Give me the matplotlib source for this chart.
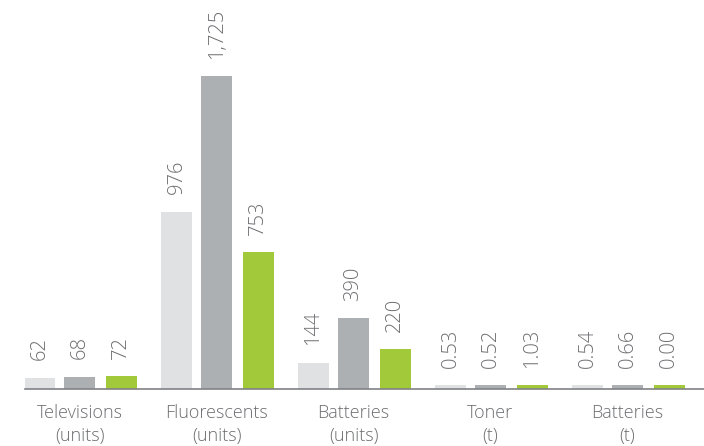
import numpy as np
import matplotlib
matplotlib.use("Agg")
import matplotlib.pyplot as plt

categories = ["Televisions\n(units)", "Fluorescents\n(units)", "Batteries\n(units)", "Toner\n(t)", "Batteries\n(t)"]
series_a = [62, 976, 144, 0.53, 0.54]
series_b = [68, 1725, 390, 0.52, 0.66]
series_c = [72, 753, 220, 1.03, 0.00]
labels_a = ["62", "976", "144", "0.53", "0.54"]
labels_b = ["68", "1,725", "390", "0.52", "0.66"]
labels_c = ["72", "753", "220", "1.03", "0.00"]

colors = ["#e0e1e2", "#adb0b3", "#a2c93a"]
text_color = "#6d6e71"
font = "Open Sans"

W, H = 704, 446
fig = plt.figure(figsize=(W / 100, H / 100), dpi=100)
ax = fig.add_axes([25 / W, 57 / H, 679 / W, 389 / H])

x = np.arange(len(categories))
width = 0.226
offsets = [-0.293, 0.0, 0.305]
ymax = 2143
stub = 4 / 389 * ymax  # smallest visible bar height

for i, (vals, labs) in enumerate(zip([series_a, series_b, series_c], [labels_a, labels_b, labels_c])):
    vals = np.array(vals, dtype=float)
    heights = np.maximum(vals, stub)
    xs = x + offsets[i]
    ax.bar(xs, heights, width=width, color=colors[i], linewidth=0)
    for xi, h, lab in zip(xs, heights, labs):
        ax.annotate(lab, (xi, h), xytext=(0, 12.5), textcoords="offset points",
                    rotation=90, ha="center", va="bottom", fontsize=14.5,
                    color=text_color, family=font, fontweight="light")

ax.set_xlim(-0.398, 4.558)
ax.set_ylim(0, ymax)
for s in ["top", "right", "left"]:
    ax.spines[s].set_visible(False)
ax.spines["bottom"].set_color("#808285")
ax.spines["bottom"].set_linewidth(1.2)
ax.set_yticks([])
ax.set_xticks(x)
ax.set_xticklabels(categories, fontsize=13, color=text_color, family=font,
                   fontweight="light", linespacing=1.35)
ax.tick_params(axis="x", length=0, pad=11)

fig.savefig("out.png", dpi=100)
